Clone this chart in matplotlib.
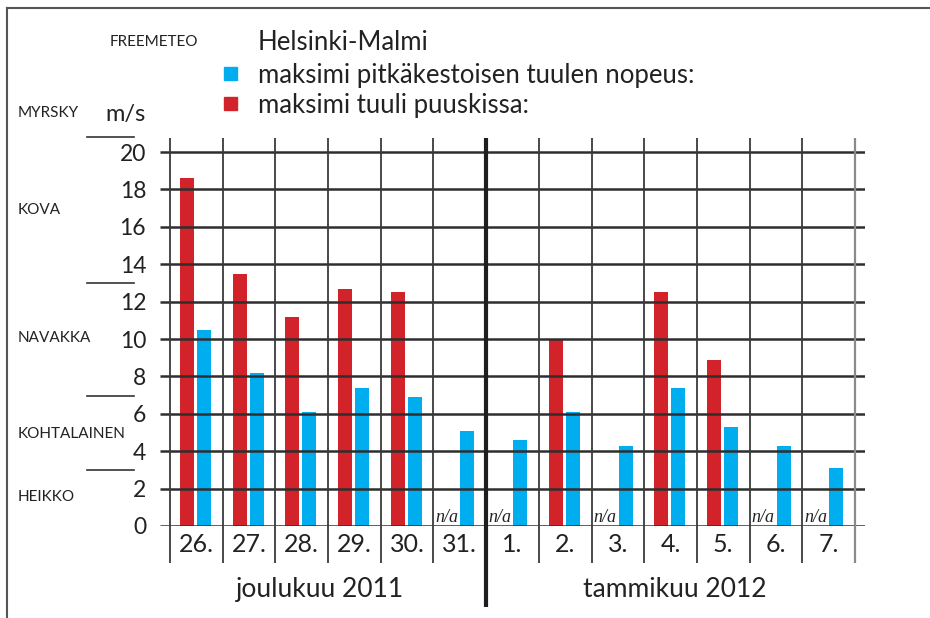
import numpy as np
import matplotlib
matplotlib.use("Agg")
import matplotlib.pyplot as plt
import matplotlib.transforms as mtransforms
from matplotlib.lines import Line2D
from matplotlib.patches import Rectangle

plt.rcParams['font.family'] = ['Lato', 'DejaVu Sans']

days = ['26.', '27.', '28.', '29.', '30.', '31.', '1.', '2.', '3.', '4.', '5.', '6.', '7.']
gust = [18.6, 13.5, 11.2, 12.7, 12.5, np.nan, np.nan, 10.0, np.nan, 12.5, 8.9, np.nan, np.nan]
sustained = [10.5, 8.2, 6.1, 7.4, 6.9, 5.1, 4.6, 6.1, 4.3, 7.4, 5.3, 4.3, 3.1]
months = ['joulukuu 2011', 'tammikuu 2012']
month_centers = [2.85, 9.58]
classes = ['MYRSKY', 'KOVA', 'NAVAKKA', 'KOHTALAINEN', 'HEIKKO']
class_label_y = [21.4, 16.9, 10.05, 4.9, 1.55]
class_limits = [20.8, 13.0, 6.95, 3.0]
yticks = list(range(0, 21, 2))

RED = '#d2232a'
BLUE = '#00aeef'
TXT = '#222222'
W, H = 930, 618


def fx(px):
    return px / W


def fy(py):
    return 1 - py / H


fig = plt.figure(figsize=(9.3, 6.18), dpi=100)
ax = fig.add_axes([fx(160), fy(526), fx(865) - fx(160), fy(138) - fy(526)])
ax.set_xlim(-0.19, 13.19)
ax.set_ylim(0, 20.75)
for s in ax.spines.values():
    s.set_visible(False)
ax.set_xticks([])
ax.set_yticks(yticks)
ax.set_yticklabels([str(v) for v in yticks], fontsize=16.5, color=TXT)
ax.tick_params(axis='y', length=0, pad=10)

x = np.arange(len(days))
ax.bar(x + 0.32, gust, width=0.266, color=RED, zorder=2)
ax.bar(x + 0.645, sustained, width=0.266, color=BLUE, zorder=2)

# horizontal grid drawn over the bars
ax.hlines(yticks, -0.19, 13.19, color='#2e2e2e', lw=1.8, zorder=3)

# column separators
seps = [i for i in range(14) if i not in (6, 13)]
ax.vlines(seps, -1.98, 20.75, color='#3a3a3a', lw=1.3, clip_on=False, zorder=3)
ax.vlines([13], -1.98, 20.75, color='#8a8a8a', lw=1.6, clip_on=False, zorder=3)
ax.vlines([6], -4.35, 20.75, color='#1e1e1e', lw=3, clip_on=False, zorder=4)

for i, d in enumerate(days):
    ax.text(i + 0.5, -1.0, d, ha='center', va='center', fontsize=18, color=TXT, clip_on=False)
    if np.isnan(gust[i]):
        ax.text(i + 0.26, 0.2, 'n/a', ha='center', va='baseline', fontsize=13,
                family='Liberation Serif', style='italic', color=TXT, zorder=5)

for m, c in zip(months, month_centers):
    ax.text(c, -3.37, m, ha='center', va='center', fontsize=19, color=TXT, clip_on=False)

# wind class labels on the left
blend = mtransforms.blended_transform_factory(fig.transFigure, ax.transData)
for yl in class_limits:
    fig.add_artist(Line2D([fx(87), fx(134)], [yl, yl], transform=blend, color='#333333', lw=1.2))
fig.text(fx(18), fy(117), classes[0], ha='left', va='baseline', fontsize=11, color=TXT)
for name, yv in zip(classes[1:], class_label_y[1:]):
    fig.text(fx(18), yv, name, ha='left', va='center', fontsize=11, color=TXT, transform=blend)
fig.text(fx(146), fy(121), 'm/s', ha='right', va='baseline', fontsize=17, color=TXT)

# header and legend
fig.text(fx(110), fy(46), 'FREEMETEO', ha='left', va='baseline', fontsize=11, color=TXT)
fig.text(fx(258), fy(50), 'Helsinki-Malmi', ha='left', va='baseline', fontsize=18.5, color=TXT)
fig.add_artist(Rectangle((fx(224), fy(80)), fx(13), 13 / H, transform=fig.transFigure, color=BLUE))
fig.text(fx(258), fy(83), 'maksimi pitkäkestoisen tuulen nopeus:', ha='left', va='baseline',
         fontsize=18.5, color=TXT)
fig.add_artist(Rectangle((fx(224), fy(110)), fx(13), 13 / H, transform=fig.transFigure, color=RED))
fig.text(fx(258), fy(113), 'maksimi tuuli puuskissa:', ha='left', va='baseline',
         fontsize=18.5, color=TXT)

# outer frame
fig.add_artist(Line2D([fx(7), 1], [fy(8), fy(8)], color='#555555', lw=1.5))
fig.add_artist(Line2D([fx(7), fx(7)], [fy(8), 0], color='#555555', lw=1.5))

fig.savefig('out.png', dpi=100)
